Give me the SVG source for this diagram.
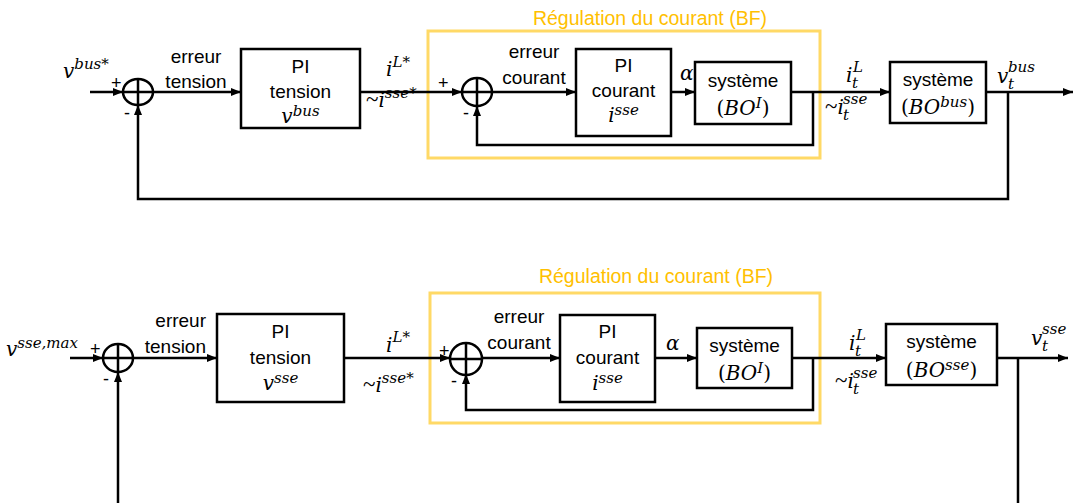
<svg xmlns="http://www.w3.org/2000/svg" width="1073" height="503" viewBox="0 0 1073 503">
<defs>
<marker id="ah" markerUnits="userSpaceOnUse" markerWidth="10" markerHeight="8" refX="10" refY="4" orient="auto">
<path d="M0,0 L10,4 L0,8 z" fill="#000"/>
</marker>
<style>
.blk{fill:#fff;stroke:#000;stroke-width:2.5}
.sum{fill:none;stroke:#000;stroke-width:2.5}
.yb{fill:none;stroke:#FFD966;stroke-width:3}
.ln{fill:none;stroke:#000;stroke-width:2.5}
.arr{marker-end:url(#ah)}
.t{font-family:"Liberation Sans",Arial,sans-serif;font-size:19px;fill:#000}
.c{text-anchor:middle}
.e{text-anchor:end}
.sg{font-family:"Liberation Sans",Arial,sans-serif;font-size:18px;fill:#000}
.ttl{font-family:"Liberation Sans",Arial,sans-serif;font-size:19.5px;fill:#FFC000;text-anchor:middle}
.m{font-family:"DejaVu Serif","Liberation Serif",serif;font-style:italic;font-size:20px;fill:#000}
.s{font-size:15px}
.up{font-style:normal}
.tl{font-family:"Liberation Serif",serif;font-style:normal;font-size:23px}
</style>
</defs>

<!-- ===== TOP DIAGRAM ===== -->
<g id="top-bf-frame">
<rect class="yb" x="428" y="31" width="392" height="127"/>
<text class="ttl" x="650" y="25">Régulation du courant (BF)</text>
</g>

<g id="connectors-top">
<path class="ln arr" d="M90,92 H123"/>
<path class="ln arr" d="M153,92 H241"/>
<path class="ln arr" d="M360,92 H462"/>
<path class="ln arr" d="M492,92 H576"/>
<path class="ln arr" d="M671,92 H695"/>
<path class="ln arr" d="M791,92 H890"/>
<path class="ln arr" d="M813,92 V145 H477 V106"/>
<path class="ln arr" d="M986,92 H1073"/>
<path class="ln arr" d="M1008,92 V199 H138 V105"/>
</g>

<g id="top-sum1">
<ellipse class="sum" cx="138" cy="92" rx="15" ry="13"/>
<path class="ln" d="M123,92 H153 M138,79 V105"/>
<text class="sg" x="111" y="89">+</text>
<text class="sg" x="124" y="119">-</text>
</g>
<text id="top-ref" class="m" x="63" y="78">v<tspan class="s" dy="-9">bus<tspan class="up">*</tspan></tspan></text>
<text id="top-err-tension" class="t c" x="196"><tspan x="196" y="63">erreur</tspan><tspan x="196" y="88">tension</tspan></text>

<g id="top-pi-tension">
<rect class="blk" x="241" y="49" width="119" height="79"/>
<text class="t c" x="300.5" y="73">PI</text>
<text class="t c" x="300.5" y="98">tension</text>
<text class="m c" x="300.5" y="123">v<tspan class="s" dy="-7">bus</tspan></text>
</g>

<text id="top-iL" class="m" x="386" y="76">i<tspan class="s" dy="-9">L<tspan class="up">*</tspan></tspan></text>
<text id="top-isse" class="m" x="366" y="107"><tspan class="tl">~</tspan>i<tspan class="s" dy="-9">sse<tspan class="up">*</tspan></tspan></text>

<g id="top-sum2">
<ellipse class="sum" cx="477" cy="92" rx="15" ry="14"/>
<path class="ln" d="M462,92 H492 M477,78 V106"/>
<text class="sg" x="438" y="89">+</text>
<text class="sg" x="463" y="119">-</text>
</g>
<text id="top-err-courant" class="t c" x="534"><tspan x="534" y="58">erreur</tspan><tspan x="534" y="84">courant</tspan></text>

<g id="top-pi-courant">
<rect class="blk" x="576" y="49" width="95" height="87"/>
<text class="t c" x="623.5" y="72">PI</text>
<text class="t c" x="623.5" y="97">courant</text>
<text class="m c" x="623.5" y="122">i<tspan class="s" dy="-7">sse</tspan></text>
</g>
<text id="top-alpha" class="m" x="680" y="80">α</text>

<g id="top-sys-I">
<rect class="blk" x="695" y="62" width="96" height="62"/>
<text class="t c" x="743" y="87">système</text>
<text class="m c" x="743" y="115"><tspan class="up">(</tspan>BO<tspan class="s" dy="-7">I</tspan><tspan class="up" dy="7">)</tspan></text>
</g>

<text id="top-iLt" class="m" x="846" y="82">i<tspan class="s" x="852" y="88">t</tspan></text>
<text id="top-iLt-sup" class="m s" x="853" y="72">L</text>
<text id="top-isset" class="m" x="825" y="114"><tspan class="tl">~</tspan>i<tspan class="s" x="843" y="120">t</tspan></text>
<text id="top-isset-sup" class="m s" x="843" y="104">sse</text>

<g id="top-sys-bus">
<rect class="blk" x="890" y="62" width="96" height="61"/>
<text class="t c" x="938" y="86">système</text>
<text class="m c" x="938" y="114"><tspan class="up">(</tspan>BO<tspan class="s" dy="-7">bus</tspan><tspan class="up" dy="7">)</tspan></text>
</g>
<text id="top-vt" class="m" x="997" y="83">v<tspan class="s" x="1008" y="89">t</tspan></text>
<text id="top-vt-sup" class="m s" x="1008" y="72">bus</text>

<!-- ===== BOTTOM DIAGRAM ===== -->
<g id="bot-bf-frame">
<rect class="yb" x="430" y="293" width="390" height="130"/>
<text class="ttl" x="656" y="283">Régulation du courant (BF)</text>
</g>

<g id="connectors-bottom">
<path class="ln arr" d="M70,358 H103"/>
<path class="ln arr" d="M133,358 H217"/>
<path class="ln arr" d="M344,358 H450"/>
<path class="ln arr" d="M482,358 H560"/>
<path class="ln arr" d="M655,358 H697"/>
<path class="ln arr" d="M792,358 H886"/>
<path class="ln arr" d="M813,358 V410 H466 V374"/>
<path class="ln arr" d="M997,358 H1068"/>
<path class="ln" d="M1018,358 V503"/>
<path class="ln arr" d="M118,503 V372"/>
</g>

<text id="bot-ref" class="m" x="6" y="356">v<tspan class="s" dy="-8">sse,max</tspan></text>

<g id="bot-sum1">
<ellipse class="sum" cx="118" cy="358" rx="15" ry="14"/>
<path class="ln" d="M103,358 H133 M118,344 V372"/>
<text class="sg" x="90" y="355">+</text>
<text class="sg" x="103" y="385">-</text>
</g>
<text id="bot-err-tension" class="t e" x="206"><tspan x="206" y="327">erreur</tspan><tspan x="206" y="353">tension</tspan></text>

<g id="bot-pi-tension">
<rect class="blk" x="217" y="314" width="127" height="88"/>
<text class="t c" x="280.5" y="338">PI</text>
<text class="t c" x="280.5" y="364">tension</text>
<text class="m c" x="280.5" y="390">v<tspan class="s" dy="-7">sse</tspan></text>
</g>

<text id="bot-iL" class="m" x="386" y="352">i<tspan class="s" dy="-10">L<tspan class="up">*</tspan></tspan></text>
<text id="bot-isse" class="m" x="363" y="392"><tspan class="tl">~</tspan>i<tspan class="s" dy="-9">sse<tspan class="up">*</tspan></tspan></text>

<g id="bot-sum2">
<ellipse class="sum" cx="466" cy="359" rx="16" ry="16"/>
<path class="ln" d="M450,359 H482 M466,343 V375"/>
<text class="sg" x="439" y="357">+</text>
<text class="sg" x="451" y="387">-</text>
</g>
<text id="bot-err-courant" class="t c" x="519"><tspan x="519" y="323">erreur</tspan><tspan x="519" y="349">courant</tspan></text>

<g id="bot-pi-courant">
<rect class="blk" x="560" y="315" width="95" height="87"/>
<text class="t c" x="607.5" y="338">PI</text>
<text class="t c" x="607.5" y="364">courant</text>
<text class="m c" x="607.5" y="390">i<tspan class="s" dy="-7">sse</tspan></text>
</g>
<text id="bot-alpha" class="m" x="666" y="350">α</text>

<g id="bot-sys-I">
<rect class="blk" x="697" y="328" width="95" height="60"/>
<text class="t c" x="744.5" y="352">système</text>
<text class="m c" x="744.5" y="380"><tspan class="up">(</tspan>BO<tspan class="s" dy="-7">I</tspan><tspan class="up" dy="7">)</tspan></text>
</g>

<text id="bot-iLt" class="m" x="849" y="350">i<tspan class="s" x="855" y="356">t</tspan></text>
<text id="bot-iLt-sup" class="m s" x="856" y="340">L</text>
<text id="bot-isset" class="m" x="835" y="388"><tspan class="tl">~</tspan>i<tspan class="s" x="853" y="394">t</tspan></text>
<text id="bot-isset-sup" class="m s" x="853" y="378">sse</text>

<g id="bot-sys-sse">
<rect class="blk" x="886" y="324" width="111" height="61"/>
<text class="t c" x="941.5" y="348">système</text>
<text class="m c" x="941.5" y="377"><tspan class="up">(</tspan>BO<tspan class="s" dy="-7">sse</tspan><tspan class="up" dy="7">)</tspan></text>
</g>
<text id="bot-vt" class="m" x="1031" y="345">v<tspan class="s" x="1042" y="351">t</tspan></text>
<text id="bot-vt-sup" class="m s" x="1042" y="334">sse</text>
</svg>
